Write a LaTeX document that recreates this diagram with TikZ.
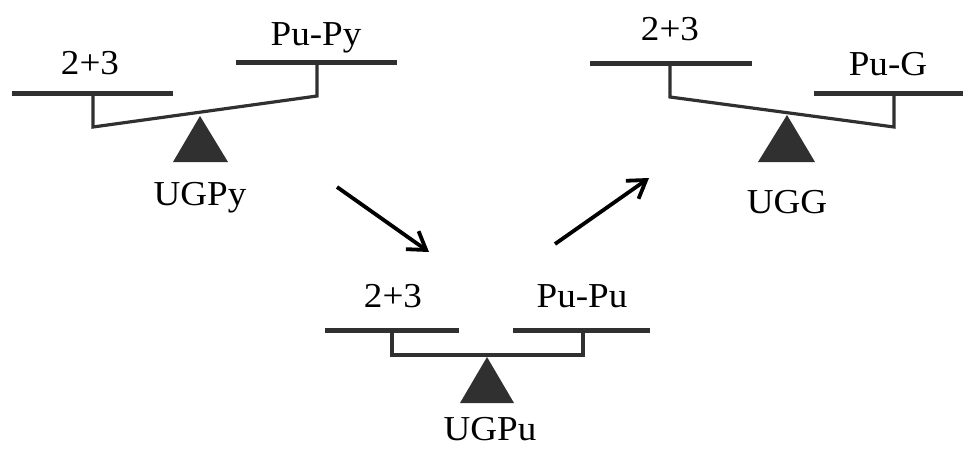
\documentclass[tikz,border=0pt]{standalone}
\usepackage{fontspec}
\usepackage{graphicx}
\setmainfont{Liberation Serif}
\usetikzlibrary{arrows.meta}
\definecolor{plategray}{HTML}{303030}
\newcommand\widetext[1]{\scalebox{1.06}[1]{#1}}
\begin{document}
\begin{tikzpicture}[x=1pt,y=-1pt,
  plate/.style={line width=5pt, draw=plategray},
  beam/.style={line width=3.2pt, draw=plategray, line join=miter},
  fulcrum/.style={fill=plategray, draw=none},
  lbl/.style={anchor=base, inner sep=0pt, font=\fontsize{35}{35}\selectfont},
  flow/.style={line width=3.8pt, -{Straight Barb[length=17pt,width=22pt,line width=3.8pt]}}]
\useasboundingbox (0,0) rectangle (963,450);

% ---- left balance (UGPy)
\draw[plate] (12,93) -- (173,93);
\draw[plate] (236,62) -- (397,62);
\draw[beam] (93,93) -- (93,127) -- (317,96) -- (317,62);
\fill[fulcrum] (200,116) -- (228,162) -- (173,162) -- cycle;
\node[lbl] (l23) at (90,74) {\widetext{2+3}};
\node[lbl] (lpp) at (316,45) {\widetext{Pu-Py}};
\node[lbl] (lug) at (200,205) {\widetext{UGPy}};

% ---- right balance (UGG)
\draw[plate] (590,63) -- (752,63);
\draw[plate] (814,93) -- (963,93);
\draw[beam] (670,63) -- (670,97) -- (894,127) -- (894,93);
\fill[fulcrum] (787,115) -- (815,162) -- (758,162) -- cycle;
\node[lbl] (r23) at (670,40) {\widetext{2+3}};
\node[lbl] (rpg) at (888,75) {\widetext{Pu-G}};
\node[lbl] (rug) at (787,213) {\widetext{UGG}};

% ---- bottom balance (UGPu)
\draw[plate] (325,330) -- (459,330);
\draw[plate] (513,330) -- (650,330);
\draw[beam] (392,330) -- (392,355) -- (583,355) -- (583,330);
\fill[fulcrum] (487,357) -- (514,403) -- (460,403) -- cycle;
\node[lbl] (b23) at (393,307) {\widetext{2+3}};
\node[lbl] (bpp) at (582,307) {\widetext{Pu-Pu}};
\node[lbl] (bug) at (490,440) {\widetext{UGPu}};

% ---- arrows
\coordinate (a1s) at (337,187);
\coordinate (a1e) at (429,252);
\coordinate (a2s) at (555,244);
\coordinate (a2e) at (649,178);
\draw[flow] (a1s) -- (a1e);
\draw[flow] (a2s) -- (a2e);
\end{tikzpicture}
\end{document}
